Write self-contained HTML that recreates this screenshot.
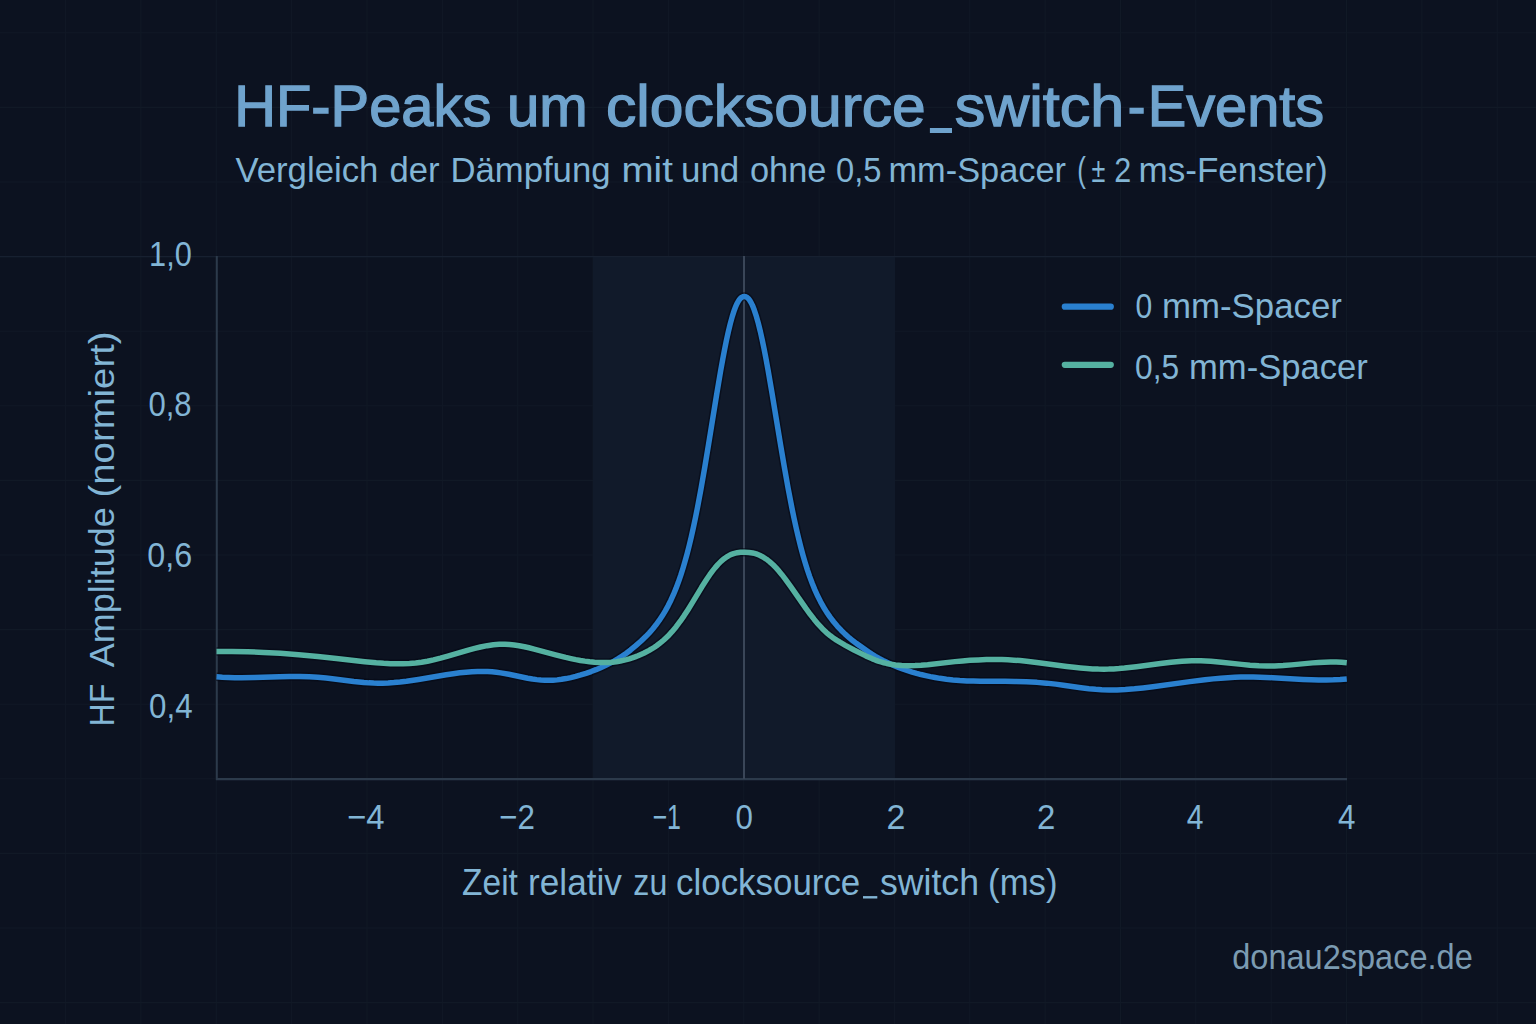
<!DOCTYPE html>
<html><head><meta charset="utf-8"><style>
html,body{margin:0;padding:0;background:#0c1220;width:1536px;height:1024px;overflow:hidden}
svg{display:block}
</style></head><body>
<svg width="1536" height="1024" viewBox="0 0 1536 1024">
<rect width="1536" height="1024" fill="#0c1220"/>
<g stroke="#111926" stroke-width="1.1"><line x1="65.6" y1="0" x2="65.6" y2="1024"/><line x1="140.9" y1="0" x2="140.9" y2="1024"/><line x1="216.3" y1="0" x2="216.3" y2="1024"/><line x1="291.6" y1="0" x2="291.6" y2="1024"/><line x1="367.0" y1="0" x2="367.0" y2="1024"/><line x1="442.4" y1="0" x2="442.4" y2="1024"/><line x1="517.7" y1="0" x2="517.7" y2="1024"/><line x1="593.0" y1="0" x2="593.0" y2="1024"/><line x1="668.4" y1="0" x2="668.4" y2="1024"/><line x1="743.8" y1="0" x2="743.8" y2="1024"/><line x1="819.1" y1="0" x2="819.1" y2="1024"/><line x1="894.4" y1="0" x2="894.4" y2="1024"/><line x1="969.8" y1="0" x2="969.8" y2="1024"/><line x1="1045.1" y1="0" x2="1045.1" y2="1024"/><line x1="1120.5" y1="0" x2="1120.5" y2="1024"/><line x1="1195.8" y1="0" x2="1195.8" y2="1024"/><line x1="1271.2" y1="0" x2="1271.2" y2="1024"/><line x1="1346.5" y1="0" x2="1346.5" y2="1024"/><line x1="1421.9" y1="0" x2="1421.9" y2="1024"/><line x1="1497.2" y1="0" x2="1497.2" y2="1024"/><line x1="0" y1="32.8" x2="1536" y2="32.8"/><line x1="0" y1="107.4" x2="1536" y2="107.4"/><line x1="0" y1="182.0" x2="1536" y2="182.0"/><line x1="0" y1="256.6" x2="1536" y2="256.6"/><line x1="0" y1="331.2" x2="1536" y2="331.2"/><line x1="0" y1="405.8" x2="1536" y2="405.8"/><line x1="0" y1="480.4" x2="1536" y2="480.4"/><line x1="0" y1="555.0" x2="1536" y2="555.0"/><line x1="0" y1="629.6" x2="1536" y2="629.6"/><line x1="0" y1="704.2" x2="1536" y2="704.2"/><line x1="0" y1="778.8" x2="1536" y2="778.8"/><line x1="0" y1="853.4" x2="1536" y2="853.4"/><line x1="0" y1="928.0" x2="1536" y2="928.0"/><line x1="0" y1="1002.6" x2="1536" y2="1002.6"/></g>
<rect x="593" y="256.5" width="302" height="522.5" fill="#111a2a"/>
<line x1="0" y1="256.6" x2="1536" y2="256.6" stroke="#172030" stroke-width="1.4"/>
<line x1="216.8" y1="256" x2="216.8" y2="780" stroke="#2c3a4b" stroke-width="2"/>
<line x1="216" y1="779.2" x2="1347" y2="779.2" stroke="#2c3a4b" stroke-width="2.2"/>
<line x1="744" y1="256" x2="744" y2="779" stroke="#3a4658" stroke-width="2"/>
<path d="M216.50,651.41 L231.80,651.42 L247.50,651.74 L263.60,652.39 L280.30,653.35 L298.60,654.72 L317.80,656.46 L336.40,658.41 L364.70,661.65 L376.20,662.77 L383.60,663.32 L390.40,663.66 L396.90,663.80 L403.10,663.75 L409.50,663.47 L415.70,662.96 L421.60,662.23 L427.40,661.25 L433.60,659.93 L440.50,658.19 L447.80,656.13 L468.30,650.06 L474.70,648.35 L480.50,646.98 L487.20,645.67 L493.40,644.80 L499.30,644.34 L504.90,644.28 L509.40,644.51 L514.10,645.00 L519.10,645.75 L524.40,646.77 L529.00,647.80 L534.10,649.06 L555.60,654.83 L565.70,657.38 L570.90,658.56 L575.80,659.58 L580.40,660.43 L584.80,661.13 L589.70,661.76 L594.50,662.21 L599.10,662.47 L603.50,662.55 L607.80,662.44 L612.10,662.15 L616.30,661.67 L620.40,661.01 L623.30,660.41 L626.30,659.69 L629.30,658.85 L632.20,657.94 L635.10,656.92 L638.00,655.79 L643.70,653.25 L649.20,650.38 L651.60,648.97 L654.00,647.45 L656.60,645.67 L659.10,643.84 L661.50,641.96 L663.80,640.02 L667.80,636.26 L671.80,631.97 L676.20,626.68 L680.30,621.22 L684.00,615.85 L688.00,609.67 L691.90,603.35 L701.60,587.30 L706.90,578.97 L709.80,574.72 L712.60,570.90 L715.20,567.62 L717.80,564.64 L721.00,561.41 L724.20,558.69 L727.30,556.54 L728.90,555.61 L730.50,554.81 L732.10,554.14 L733.70,553.57 L735.40,553.10 L737.10,552.74 L740.60,552.32 L744.80,552.23 L748.90,552.44 L752.60,552.99 L754.40,553.41 L756.20,553.94 L759.60,555.25 L763.00,557.00 L766.40,559.20 L769.80,561.85 L773.30,565.04 L776.10,567.91 L779.00,571.16 L782.10,574.92 L785.30,579.06 L791.10,587.08 L805.90,608.42 L810.20,614.28 L814.20,619.42 L818.40,624.41 L822.40,628.72 L826.40,632.52 L830.40,635.84 L833.30,637.97 L836.50,640.10 L840.30,642.43 L845.30,645.32 L854.00,650.00 L865.80,655.89 L872.40,658.85 L875.40,660.05 L878.20,661.07 L881.00,661.96 L883.80,662.74 L886.70,663.44 L889.60,664.02 L895.50,664.91 L901.60,665.44 L908.10,665.64 L915.10,665.51 L921.00,665.19 L927.60,664.65 L955.00,661.64 L962.60,660.94 L970.00,660.36 L978.30,659.88 L986.40,659.59 L994.20,659.49 L1001.80,659.58 L1007.90,659.79 L1013.90,660.13 L1020.00,660.61 L1026.50,661.25 L1038.60,662.70 L1066.80,666.48 L1074.00,667.34 L1080.50,668.00 L1086.80,668.53 L1092.70,668.90 L1098.40,669.12 L1103.90,669.18 L1108.70,669.11 L1113.70,668.90 L1118.90,668.57 L1124.50,668.09 L1136.40,666.77 L1160.60,663.58 L1171.00,662.34 L1181.90,661.35 L1186.90,661.04 L1191.70,660.86 L1196.30,660.80 L1200.90,660.85 L1205.70,661.03 L1210.80,661.33 L1221.20,662.22 L1241.50,664.37 L1250.00,665.17 L1258.90,665.79 L1266.90,666.05 L1274.60,665.98 L1283.10,665.54 L1291.50,664.87 L1312.70,662.88 L1318.80,662.43 L1324.30,662.14 L1330.40,661.99 L1336.20,662.05 L1341.60,662.33 L1346.80,662.82" fill="none" stroke="#050915" stroke-opacity="0.6" stroke-width="8.5" stroke-linejoin="round"/>
<path d="M216.50,676.79 L222.30,677.23 L228.40,677.53 L234.70,677.71 L241.50,677.77 L254.60,677.58 L279.50,676.80 L289.50,676.57 L299.90,676.53 L309.30,676.75 L317.70,677.21 L326.10,677.96 L334.20,678.90 L353.80,681.42 L363.90,682.49 L368.90,682.87 L373.70,683.12 L378.20,683.23 L382.60,683.21 L388.10,683.01 L393.90,682.61 L400.00,682.02 L406.50,681.22 L418.40,679.43 L446.20,674.73 L453.30,673.67 L459.70,672.85 L466.00,672.19 L471.90,671.75 L477.60,671.51 L483.00,671.47 L487.60,671.59 L492.00,671.86 L496.40,672.29 L500.70,672.86 L508.80,674.30 L527.70,678.19 L532.40,679.01 L536.70,679.63 L540.90,680.07 L544.80,680.31 L548.80,680.36 L552.90,680.22 L557.20,679.88 L561.60,679.33 L566.10,678.58 L570.80,677.61 L575.70,676.41 L580.80,674.97 L586.00,673.33 L591.10,671.55 L596.00,669.67 L600.70,667.70 L605.30,665.59 L609.70,663.40 L614.00,661.08 L618.20,658.61 L622.20,656.07 L626.00,653.44 L630.60,649.94 L635.80,645.63 L641.10,640.94 L645.70,636.56 L649.30,632.82 L652.70,628.94 L656.00,624.82 L659.20,620.46 L662.30,615.81 L665.30,610.86 L668.20,605.59 L670.90,600.18 L673.50,594.45 L676.00,588.41 L678.40,582.06 L680.80,575.13 L683.00,568.22 L685.10,561.09 L687.20,553.42 L689.20,545.59 L691.30,536.81 L693.30,527.90 L695.40,517.98 L697.50,507.50 L701.10,488.27 L704.90,466.50 L708.50,444.81 L716.70,394.19 L720.60,371.14 L722.70,359.44 L724.60,349.42 L726.40,340.53 L728.20,332.29 L730.30,323.61 L732.30,316.37 L734.30,310.19 L735.30,307.52 L736.30,305.14 L737.30,303.05 L738.30,301.25 L739.30,299.74 L740.30,298.53 L741.30,297.61 L742.30,296.97 L743.30,296.61 L744.30,296.50 L745.30,296.62 L746.30,297.00 L747.30,297.64 L748.30,298.57 L749.30,299.77 L750.20,301.10 L751.20,302.85 L752.20,304.89 L753.20,307.21 L754.20,309.81 L756.20,315.82 L758.30,323.26 L760.40,331.76 L762.20,339.83 L764.00,348.54 L765.90,358.35 L768.00,369.81 L772.00,392.98 L780.40,443.87 L784.20,466.30 L788.20,488.68 L792.00,508.39 L794.20,519.01 L796.40,529.02 L798.50,537.99 L800.70,546.78 L802.90,554.95 L805.10,562.53 L807.40,569.86 L809.70,576.59 L812.30,583.55 L814.90,589.88 L817.70,596.04 L820.60,601.81 L823.60,607.19 L826.80,612.35 L830.10,617.16 L833.60,621.76 L837.20,626.04 L841.10,630.24 L845.10,634.15 L849.40,637.96 L852.90,640.82 L856.30,643.38 L869.00,652.21 L871.80,654.08 L875.40,656.27 L879.10,658.37 L882.90,660.39 L886.80,662.32 L890.80,664.17 L894.90,665.94 L899.10,667.62 L903.30,669.17 L907.70,670.68 L912.10,672.06 L916.60,673.36 L921.10,674.55 L925.70,675.64 L930.40,676.65 L935.10,677.54 L939.90,678.34 L946.40,679.25 L952.90,679.96 L959.70,680.50 L966.90,680.88 L973.30,681.09 L980.30,681.21 L1005.10,681.25 L1015.00,681.38 L1026.20,681.75 L1037.00,682.37 L1046.40,683.14 L1055.60,684.14 L1063.40,685.16 L1080.90,687.66 L1088.90,688.67 L1095.60,689.35 L1101.80,689.78 L1109.20,690.00 L1117.10,689.92 L1125.40,689.52 L1134.50,688.79 L1143.00,687.90 L1152.90,686.70 L1189.90,681.65 L1205.00,679.76 L1213.10,678.89 L1220.70,678.19 L1227.90,677.66 L1234.80,677.28 L1240.90,677.07 L1246.90,676.99 L1253.30,677.03 L1260.10,677.19 L1272.80,677.74 L1303.10,679.44 L1311.30,679.77 L1318.60,679.95 L1326.20,679.98 L1333.40,679.83 L1340.20,679.50 L1346.80,678.98" fill="none" stroke="#050915" stroke-opacity="0.6" stroke-width="8.5" stroke-linejoin="round"/>
<path d="M216.50,676.79 L222.30,677.23 L228.40,677.53 L234.70,677.71 L241.50,677.77 L254.60,677.58 L279.50,676.80 L289.50,676.57 L299.90,676.53 L309.30,676.75 L317.70,677.21 L326.10,677.96 L334.20,678.90 L353.80,681.42 L363.90,682.49 L368.90,682.87 L373.70,683.12 L378.20,683.23 L382.60,683.21 L388.10,683.01 L393.90,682.61 L400.00,682.02 L406.50,681.22 L418.40,679.43 L446.20,674.73 L453.30,673.67 L459.70,672.85 L466.00,672.19 L471.90,671.75 L477.60,671.51 L483.00,671.47 L487.60,671.59 L492.00,671.86 L496.40,672.29 L500.70,672.86 L508.80,674.30 L527.70,678.19 L532.40,679.01 L536.70,679.63 L540.90,680.07 L544.80,680.31 L548.80,680.36 L552.90,680.22 L557.20,679.88 L561.60,679.33 L566.10,678.58 L570.80,677.61 L575.70,676.41 L580.80,674.97 L586.00,673.33 L591.10,671.55 L596.00,669.67 L600.70,667.70 L605.30,665.59 L609.70,663.40 L614.00,661.08 L618.20,658.61 L622.20,656.07 L626.00,653.44 L630.60,649.94 L635.80,645.63 L641.10,640.94 L645.70,636.56 L649.30,632.82 L652.70,628.94 L656.00,624.82 L659.20,620.46 L662.30,615.81 L665.30,610.86 L668.20,605.59 L670.90,600.18 L673.50,594.45 L676.00,588.41 L678.40,582.06 L680.80,575.13 L683.00,568.22 L685.10,561.09 L687.20,553.42 L689.20,545.59 L691.30,536.81 L693.30,527.90 L695.40,517.98 L697.50,507.50 L701.10,488.27 L704.90,466.50 L708.50,444.81 L716.70,394.19 L720.60,371.14 L722.70,359.44 L724.60,349.42 L726.40,340.53 L728.20,332.29 L730.30,323.61 L732.30,316.37 L734.30,310.19 L735.30,307.52 L736.30,305.14 L737.30,303.05 L738.30,301.25 L739.30,299.74 L740.30,298.53 L741.30,297.61 L742.30,296.97 L743.30,296.61 L744.30,296.50 L745.30,296.62 L746.30,297.00 L747.30,297.64 L748.30,298.57 L749.30,299.77 L750.20,301.10 L751.20,302.85 L752.20,304.89 L753.20,307.21 L754.20,309.81 L756.20,315.82 L758.30,323.26 L760.40,331.76 L762.20,339.83 L764.00,348.54 L765.90,358.35 L768.00,369.81 L772.00,392.98 L780.40,443.87 L784.20,466.30 L788.20,488.68 L792.00,508.39 L794.20,519.01 L796.40,529.02 L798.50,537.99 L800.70,546.78 L802.90,554.95 L805.10,562.53 L807.40,569.86 L809.70,576.59 L812.30,583.55 L814.90,589.88 L817.70,596.04 L820.60,601.81 L823.60,607.19 L826.80,612.35 L830.10,617.16 L833.60,621.76 L837.20,626.04 L841.10,630.24 L845.10,634.15 L849.40,637.96 L852.90,640.82 L856.30,643.38 L869.00,652.21 L871.80,654.08 L875.40,656.27 L879.10,658.37 L882.90,660.39 L886.80,662.32 L890.80,664.17 L894.90,665.94 L899.10,667.62 L903.30,669.17 L907.70,670.68 L912.10,672.06 L916.60,673.36 L921.10,674.55 L925.70,675.64 L930.40,676.65 L935.10,677.54 L939.90,678.34 L946.40,679.25 L952.90,679.96 L959.70,680.50 L966.90,680.88 L973.30,681.09 L980.30,681.21 L1005.10,681.25 L1015.00,681.38 L1026.20,681.75 L1037.00,682.37 L1046.40,683.14 L1055.60,684.14 L1063.40,685.16 L1080.90,687.66 L1088.90,688.67 L1095.60,689.35 L1101.80,689.78 L1109.20,690.00 L1117.10,689.92 L1125.40,689.52 L1134.50,688.79 L1143.00,687.90 L1152.90,686.70 L1189.90,681.65 L1205.00,679.76 L1213.10,678.89 L1220.70,678.19 L1227.90,677.66 L1234.80,677.28 L1240.90,677.07 L1246.90,676.99 L1253.30,677.03 L1260.10,677.19 L1272.80,677.74 L1303.10,679.44 L1311.30,679.77 L1318.60,679.95 L1326.20,679.98 L1333.40,679.83 L1340.20,679.50 L1346.80,678.98" fill="none" stroke="#2a80cf" stroke-width="5.5" stroke-linejoin="round"/>
<path d="M216.50,651.41 L231.80,651.42 L247.50,651.74 L263.60,652.39 L280.30,653.35 L298.60,654.72 L317.80,656.46 L336.40,658.41 L364.70,661.65 L376.20,662.77 L383.60,663.32 L390.40,663.66 L396.90,663.80 L403.10,663.75 L409.50,663.47 L415.70,662.96 L421.60,662.23 L427.40,661.25 L433.60,659.93 L440.50,658.19 L447.80,656.13 L468.30,650.06 L474.70,648.35 L480.50,646.98 L487.20,645.67 L493.40,644.80 L499.30,644.34 L504.90,644.28 L509.40,644.51 L514.10,645.00 L519.10,645.75 L524.40,646.77 L529.00,647.80 L534.10,649.06 L555.60,654.83 L565.70,657.38 L570.90,658.56 L575.80,659.58 L580.40,660.43 L584.80,661.13 L589.70,661.76 L594.50,662.21 L599.10,662.47 L603.50,662.55 L607.80,662.44 L612.10,662.15 L616.30,661.67 L620.40,661.01 L623.30,660.41 L626.30,659.69 L629.30,658.85 L632.20,657.94 L635.10,656.92 L638.00,655.79 L643.70,653.25 L649.20,650.38 L651.60,648.97 L654.00,647.45 L656.60,645.67 L659.10,643.84 L661.50,641.96 L663.80,640.02 L667.80,636.26 L671.80,631.97 L676.20,626.68 L680.30,621.22 L684.00,615.85 L688.00,609.67 L691.90,603.35 L701.60,587.30 L706.90,578.97 L709.80,574.72 L712.60,570.90 L715.20,567.62 L717.80,564.64 L721.00,561.41 L724.20,558.69 L727.30,556.54 L728.90,555.61 L730.50,554.81 L732.10,554.14 L733.70,553.57 L735.40,553.10 L737.10,552.74 L740.60,552.32 L744.80,552.23 L748.90,552.44 L752.60,552.99 L754.40,553.41 L756.20,553.94 L759.60,555.25 L763.00,557.00 L766.40,559.20 L769.80,561.85 L773.30,565.04 L776.10,567.91 L779.00,571.16 L782.10,574.92 L785.30,579.06 L791.10,587.08 L805.90,608.42 L810.20,614.28 L814.20,619.42 L818.40,624.41 L822.40,628.72 L826.40,632.52 L830.40,635.84 L833.30,637.97 L836.50,640.10 L840.30,642.43 L845.30,645.32 L854.00,650.00 L865.80,655.89 L872.40,658.85 L875.40,660.05 L878.20,661.07 L881.00,661.96 L883.80,662.74 L886.70,663.44 L889.60,664.02 L895.50,664.91 L901.60,665.44 L908.10,665.64 L915.10,665.51 L921.00,665.19 L927.60,664.65 L955.00,661.64 L962.60,660.94 L970.00,660.36 L978.30,659.88 L986.40,659.59 L994.20,659.49 L1001.80,659.58 L1007.90,659.79 L1013.90,660.13 L1020.00,660.61 L1026.50,661.25 L1038.60,662.70 L1066.80,666.48 L1074.00,667.34 L1080.50,668.00 L1086.80,668.53 L1092.70,668.90 L1098.40,669.12 L1103.90,669.18 L1108.70,669.11 L1113.70,668.90 L1118.90,668.57 L1124.50,668.09 L1136.40,666.77 L1160.60,663.58 L1171.00,662.34 L1181.90,661.35 L1186.90,661.04 L1191.70,660.86 L1196.30,660.80 L1200.90,660.85 L1205.70,661.03 L1210.80,661.33 L1221.20,662.22 L1241.50,664.37 L1250.00,665.17 L1258.90,665.79 L1266.90,666.05 L1274.60,665.98 L1283.10,665.54 L1291.50,664.87 L1312.70,662.88 L1318.80,662.43 L1324.30,662.14 L1330.40,661.99 L1336.20,662.05 L1341.60,662.33 L1346.80,662.82" fill="none" stroke="#55b1a1" stroke-width="5.5" stroke-linejoin="round"/>
<line x1="1064.8" y1="306.7" x2="1110.8" y2="306.7" stroke="#2a80cf" stroke-width="6.2" stroke-linecap="round"/>
<line x1="1064.8" y1="364.8" x2="1110.8" y2="364.8" stroke="#55b1a1" stroke-width="6.2" stroke-linecap="round"/>
<g font-family="Liberation Sans, sans-serif"><text x="234.20" y="125.6" font-size="57.8" font-weight="normal" fill="#6fa3cd" stroke="#6fa3cd" stroke-width="1.3" textLength="257.14" lengthAdjust="spacingAndGlyphs">HF-Peaks</text>
<text x="506.98" y="125.6" font-size="57.8" font-weight="normal" fill="#6fa3cd" stroke="#6fa3cd" stroke-width="1.3" textLength="80.83" lengthAdjust="spacingAndGlyphs">um</text>
<text x="605.95" y="125.6" font-size="57.8" font-weight="normal" fill="#6fa3cd" stroke="#6fa3cd" stroke-width="1.3" textLength="319.86" lengthAdjust="spacingAndGlyphs">clocksource</text>
<text x="954.74" y="125.6" font-size="57.8" font-weight="normal" fill="#6fa3cd" stroke="#6fa3cd" stroke-width="1.3" textLength="169.49" lengthAdjust="spacingAndGlyphs">switch</text>
<text x="1127.83" y="125.6" font-size="57.8" font-weight="normal" fill="#6fa3cd" stroke="#6fa3cd" stroke-width="1.3" textLength="17.72" lengthAdjust="spacingAndGlyphs">-</text>
<text x="1147.70" y="125.6" font-size="57.8" font-weight="normal" fill="#6fa3cd" stroke="#6fa3cd" stroke-width="1.3" textLength="176.50" lengthAdjust="spacingAndGlyphs">Events</text>
<text x="235.50" y="181.7" font-size="35.2" font-weight="normal" fill="#82b5d5" textLength="142.86" lengthAdjust="spacingAndGlyphs">Vergleich</text>
<text x="389.42" y="181.7" font-size="35.2" font-weight="normal" fill="#82b5d5" textLength="50.05" lengthAdjust="spacingAndGlyphs">der</text>
<text x="450.43" y="181.7" font-size="35.2" font-weight="normal" fill="#82b5d5" textLength="160.11" lengthAdjust="spacingAndGlyphs">Dämpfung</text>
<text x="621.51" y="181.7" font-size="35.2" font-weight="normal" fill="#82b5d5" textLength="51.39" lengthAdjust="spacingAndGlyphs">mit</text>
<text x="681.01" y="181.7" font-size="35.2" font-weight="normal" fill="#82b5d5" textLength="58.31" lengthAdjust="spacingAndGlyphs">und</text>
<text x="749.92" y="181.7" font-size="35.2" font-weight="normal" fill="#82b5d5" textLength="76.53" lengthAdjust="spacingAndGlyphs">ohne</text>
<text x="835.97" y="181.7" font-size="35.2" font-weight="normal" fill="#82b5d5" textLength="45.49" lengthAdjust="spacingAndGlyphs">0,5</text>
<text x="888.45" y="181.7" font-size="35.2" font-weight="normal" fill="#82b5d5" textLength="177.60" lengthAdjust="spacingAndGlyphs">mm-Spacer</text>
<text x="1077.16" y="181.7" font-size="35.2" font-weight="normal" fill="#82b5d5" textLength="8.63" lengthAdjust="spacingAndGlyphs">(</text>
<text x="1091.60" y="181.7" font-size="35.2" font-weight="normal" fill="#82b5d5" textLength="13.82" lengthAdjust="spacingAndGlyphs">±</text>
<text x="1114.13" y="181.7" font-size="35.2" font-weight="normal" fill="#82b5d5" textLength="16.97" lengthAdjust="spacingAndGlyphs">2</text>
<text x="1138.40" y="181.7" font-size="35.2" font-weight="normal" fill="#82b5d5" textLength="189.23" lengthAdjust="spacingAndGlyphs">ms-Fenster)</text>
<text x="462.10" y="895.1" font-size="36.5" font-weight="normal" fill="#82b5d5" textLength="55.77" lengthAdjust="spacingAndGlyphs">Zeit</text>
<text x="528.07" y="895.1" font-size="36.5" font-weight="normal" fill="#82b5d5" textLength="93.82" lengthAdjust="spacingAndGlyphs">relativ</text>
<text x="633.32" y="895.1" font-size="36.5" font-weight="normal" fill="#82b5d5" textLength="33.96" lengthAdjust="spacingAndGlyphs">zu</text>
<text x="676.04" y="895.1" font-size="36.5" font-weight="normal" fill="#82b5d5" textLength="184.24" lengthAdjust="spacingAndGlyphs">clocksource</text>
<text x="879.92" y="895.1" font-size="36.5" font-weight="normal" fill="#82b5d5" textLength="99.07" lengthAdjust="spacingAndGlyphs">switch</text>
<text x="988.10" y="895.1" font-size="36.5" font-weight="normal" fill="#82b5d5" textLength="69.48" lengthAdjust="spacingAndGlyphs">(ms)</text>
<text x="1135.43" y="318" font-size="34.5" font-weight="normal" fill="#82b5d5" textLength="16.74" lengthAdjust="spacingAndGlyphs">0</text>
<text x="1161.99" y="318" font-size="34.5" font-weight="normal" fill="#82b5d5" textLength="179.89" lengthAdjust="spacingAndGlyphs">mm-Spacer</text>
<text x="1135.08" y="379.3" font-size="34.5" font-weight="normal" fill="#82b5d5" textLength="44.11" lengthAdjust="spacingAndGlyphs">0,5</text>
<text x="1189.00" y="379.3" font-size="34.5" font-weight="normal" fill="#82b5d5" textLength="178.89" lengthAdjust="spacingAndGlyphs">mm-Spacer</text>
<text x="149.04" y="266" font-size="35" font-weight="normal" fill="#82b5d5" textLength="42.73" lengthAdjust="spacingAndGlyphs">1,0</text>
<text x="148.41" y="416.4" font-size="35" font-weight="normal" fill="#82b5d5" textLength="43.17" lengthAdjust="spacingAndGlyphs">0,8</text>
<text x="147.28" y="567" font-size="35" font-weight="normal" fill="#82b5d5" textLength="44.93" lengthAdjust="spacingAndGlyphs">0,6</text>
<text x="149.11" y="717.6" font-size="35" font-weight="normal" fill="#82b5d5" textLength="43.48" lengthAdjust="spacingAndGlyphs">0,4</text>
<text x="347.06" y="829.3" font-size="35" font-weight="normal" fill="#82b5d5" textLength="37.45" lengthAdjust="spacingAndGlyphs">−4</text>
<text x="499.11" y="829.3" font-size="35" font-weight="normal" fill="#82b5d5" textLength="35.71" lengthAdjust="spacingAndGlyphs">−2</text>
<text x="652.39" y="829.3" font-size="35" font-weight="normal" fill="#82b5d5" textLength="28.46" lengthAdjust="spacingAndGlyphs">−1</text>
<text x="735.61" y="829.3" font-size="35" font-weight="normal" fill="#82b5d5" textLength="17.41" lengthAdjust="spacingAndGlyphs">0</text>
<text x="886.53" y="829.3" font-size="35" font-weight="normal" fill="#82b5d5" textLength="18.90" lengthAdjust="spacingAndGlyphs">2</text>
<text x="1037.06" y="829.3" font-size="35" font-weight="normal" fill="#82b5d5" textLength="18.32" lengthAdjust="spacingAndGlyphs">2</text>
<text x="1186.70" y="829.3" font-size="35" font-weight="normal" fill="#82b5d5" textLength="16.70" lengthAdjust="spacingAndGlyphs">4</text>
<text x="1338.00" y="829.3" font-size="35" font-weight="normal" fill="#82b5d5" textLength="17.42" lengthAdjust="spacingAndGlyphs">4</text>
<text x="1232.26" y="969" font-size="34.5" font-weight="normal" fill="#7b9bb2" textLength="240.53" lengthAdjust="spacingAndGlyphs">donau2space.de</text>
<g transform="translate(113.5,0) rotate(-90)"><text x="-726.44" y="0" font-size="35" font-weight="normal" fill="#82b5d5" textLength="42.84" lengthAdjust="spacingAndGlyphs">HF</text><text x="-667.30" y="0" font-size="35" font-weight="normal" fill="#82b5d5" textLength="160.06" lengthAdjust="spacingAndGlyphs">Amplitude</text><text x="-497.49" y="0" font-size="35" font-weight="normal" fill="#82b5d5" textLength="166.04" lengthAdjust="spacingAndGlyphs">(normiert)</text></g>
<rect x="929.9" y="128" width="22.1" height="5" fill="#6fa3cd"/>
<rect x="863" y="896.1" width="14.3" height="2.4" fill="#82b5d5"/></g>
</svg>
</body></html>
